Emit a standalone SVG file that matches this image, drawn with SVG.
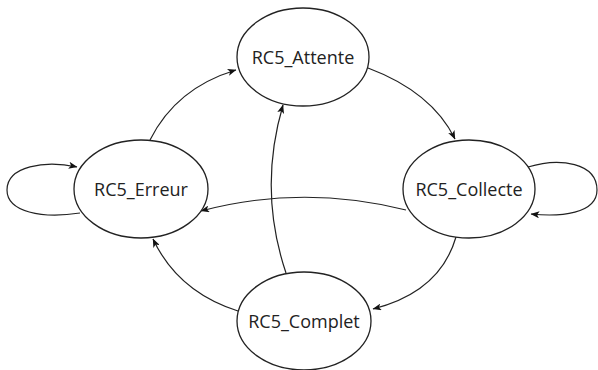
<svg xmlns="http://www.w3.org/2000/svg" width="598" height="370" viewBox="0 0 598 370">
<defs>
<marker id="arr" viewBox="0 0 10 8" refX="9.5" refY="4" markerWidth="9" markerHeight="7" markerUnits="userSpaceOnUse" orient="auto">
<path d="M0,0 L10,4 L0,8 L2.5,4 z" fill="#111"/>
</marker>
<style>
.node ellipse{fill:#fff;stroke:#222;stroke-width:1.3}
.node text{font-family:"Open Sans","Liberation Sans",sans-serif;font-size:18px;fill:#222;text-anchor:middle;dominant-baseline:central}
.edges path{fill:none;stroke:#222;stroke-width:1.2;marker-end:url(#arr)}
</style>
</defs>
<rect width="598" height="370" fill="#fff"/>
<g class="edges" id="connectors">
<path d="M150,140 Q176,88 236,70"/>
<path d="M368,68 Q432,92 455,139"/>
<path d="M528,167 C560,157 597,163 597,190 C597,214 560,217 531,214"/>
<path d="M80,213 C42,219 7,212 7,190 C7,166 45,160 77,167"/>
<path d="M406,210 Q302,184 201,211"/>
<path d="M456,237 Q440,292 373,309"/>
<path d="M286,273 Q258,190 283,105"/>
<path d="M238,311 Q178,292 153,239"/>
</g>
<g class="node" id="attente"><ellipse cx="303" cy="57" rx="66" ry="49"/><text x="303" y="57">RC5_Attente</text></g>
<g class="node" id="erreur"><ellipse cx="141" cy="189" rx="67" ry="49"/><text x="141" y="189">RC5_Erreur</text></g>
<g class="node" id="collecte"><ellipse cx="469" cy="189" rx="66" ry="49"/><text x="469" y="189">RC5_Collecte</text></g>
<g class="node" id="complet"><ellipse cx="304" cy="321" rx="67" ry="49"/><text x="304" y="321">RC5_Complet</text></g>
</svg>
